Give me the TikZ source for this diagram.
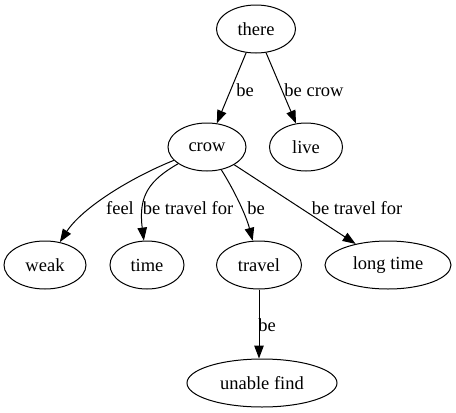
\documentclass[tikz,border=0pt]{standalone}
\usepackage{fontspec}
\setmainfont{Liberation Serif}
\usetikzlibrary{shapes.geometric,arrows.meta}

\begin{document}
\begin{tikzpicture}[x=1pt, y=-1pt,
  word/.style={draw, ellipse, line width=1pt, minimum height=48pt, inner sep=0pt, font=\fontsize{18.5}{20}\selectfont},
  rel/.style={inner sep=0pt, font=\fontsize{18.5}{20}\selectfont},
  link/.style={line width=1pt, -{Triangle[length=13pt,width=9.5pt]}}]
\useasboundingbox (0,0) rectangle (456,413);
% nodes
\node[word, minimum width=79pt] (there) at (256,29) {there};
\node[word, minimum width=78pt] (crow) at (207,147) {crow};
\node[word, minimum width=73pt] (live) at (306,147) {live};
\node[word, minimum width=82pt] (weak) at (45,265) {weak};
\node[word, minimum width=74pt] (time) at (147,265) {time};
\node[word, minimum width=85pt] (travel) at (259,265) {travel};
\node[word, minimum width=126pt] (longtime) at (388,265) {long time};
\node[word, minimum width=150pt] (unable) at (262,383) {unable find};
% edges
\draw[link] (there) -- (crow);
\draw[link] (there) -- (live);
\draw[link] (crow) .. controls (130,178) and (82,208) .. (weak);
\draw[link] (crow) .. controls (150,180) and (138,195) .. (time);
\draw[link] (crow) .. controls (234,190) and (246,215) .. (travel);
\draw[link] (crow) -- (longtime);
\draw[link] (travel) -- (travel |- unable.north);
% edge labels
\node[rel] (lthere1) at (245,90) {be};
\node[rel] (lthere2) at (314,90) {be crow};
\node[rel] (lcrow1) at (120,208) {feel};
\node[rel] (lcrow2) at (188,208) {be travel for};
\node[rel] (lcrow3) at (256,208) {be};
\node[rel] (lcrow4) at (357,208) {be travel for};
\node[rel] (ltravel) at (267,325) {be};
\end{tikzpicture}
\end{document}
